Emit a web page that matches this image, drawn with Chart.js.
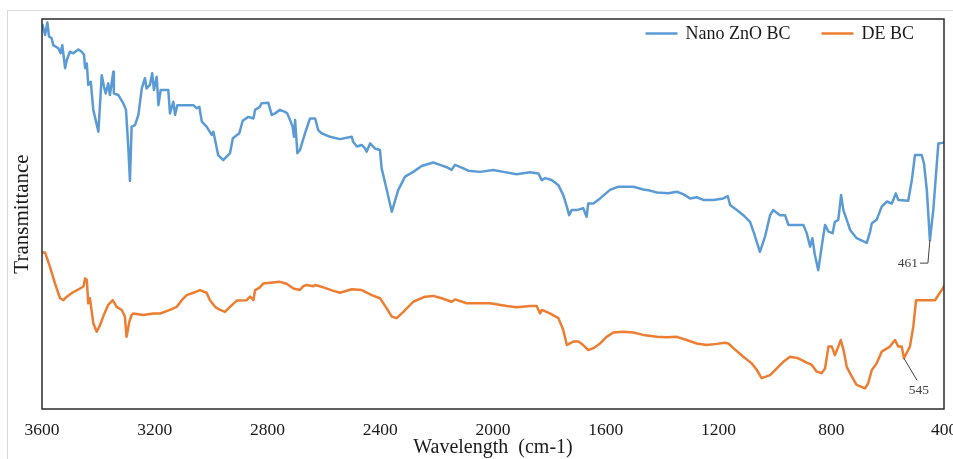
<!DOCTYPE html>
<html><head><meta charset="utf-8">
<script src="https://cdn.jsdelivr.net/npm/chart.js@4/dist/chart.umd.min.js"></script>
<style>html,body{margin:0;padding:0;background:#fff;overflow:hidden}#wrap{width:953px;height:459px;position:relative}</style>
</head><body><div id="wrap"><canvas id="c" width="953" height="459"></canvas></div>
<script>
// ---- data: [wavenumber (cm-1), transmittance (arbitrary %)] ----
const xTicks = [3600, 3200, 2800, 2400, 2000, 1600, 1200, 800, 400];
const seriesNames = ['Nano ZnO BC', 'DE BC'];
const nanoZnO = [[3600,97.5],[3598,98.5],[3589,95.9],[3581,99.1],[3575,95.5],[3566,95.1],[3560,93.3],[3542,92.5],[3534,91.2],[3528,93.3],[3518,87.4],[3512,89.5],[3501,91.6],[3489,91.2],[3471,92.2],[3459,91.6],[3451,90.8],[3447,87.4],[3441,88.6],[3436,83.1],[3427,83.9],[3418,76.7],[3400,71.1],[3388,85.6],[3380,82.6],[3374,80.9],[3365,83.5],[3359,80.5],[3353,83.5],[3347,86.5],[3345,80.9],[3329,80.5],[3312,78.4],[3302,76.7],[3294,67.3],[3288,58.5],[3282,72.4],[3270,72.8],[3258,75.4],[3246,82.2],[3235,84.8],[3229,82.2],[3217,83.1],[3209,86.1],[3203,81.8],[3193,85.2],[3187,77.9],[3179,81.8],[3152,81.8],[3146,75.8],[3134,78.8],[3128,75.4],[3120,77.9],[3099,77.9],[3063,77.9],[3051,77.1],[3042,77.5],[3033,73.7],[3016,72.4],[2998,70.3],[2992,71.1],[2975,65.1],[2957,63.8],[2933,65.6],[2923,69.4],[2900,70.7],[2888,73.9],[2868,74.9],[2850,74.5],[2844,76.7],[2827,77.5],[2821,78.4],[2797,78.5],[2785,75.4],[2773,75.8],[2756,76.7],[2738,76.2],[2730,75.8],[2720,74.1],[2711,72.4],[2706,69.8],[2702,74.1],[2694,65.6],[2685,66.4],[2667,70.7],[2649,74.5],[2631,74.5],[2620,71.5],[2608,70.7],[2578,69.8],[2543,69.2],[2501,69.8],[2496,68.5],[2483,67.3],[2466,67.7],[2454,66.8],[2448,66.0],[2436,68.1],[2419,66.8],[2401,66.4],[2395,61.7],[2377,56.2],[2359,50.6],[2336,56.2],[2312,59.6],[2283,60.8],[2253,62.3],[2212,63.2],[2188,62.6],[2164,62.0],[2147,61.3],[2135,62.6],[2105,61.7],[2088,61.1],[2046,60.8],[1999,61.3],[1963,60.8],[1916,60.2],[1869,60.7],[1839,60.4],[1827,58.7],[1815,59.2],[1792,58.7],[1768,57.4],[1751,54.9],[1738,51.9],[1730,49.7],[1721,51.0],[1703,51.0],[1680,51.5],[1668,49.3],[1662,52.7],[1644,52.7],[1620,54.0],[1585,56.2],[1555,57.0],[1502,57.0],[1467,56.3],[1443,56.0],[1419,55.5],[1378,55.3],[1348,55.7],[1325,55.1],[1301,54.0],[1277,54.3],[1254,53.6],[1218,53.6],[1183,54.0],[1167,54.6],[1159,52.3],[1135,51.0],[1112,49.7],[1088,48.0],[1074,45.1],[1053,40.3],[1035,44.2],[1017,49.7],[1006,51.0],[982,49.7],[964,49.7],[952,47.2],[899,47.2],[887,45.1],[875,41.6],[867,43.8],[858,39.5],[846,35.6],[834,41.6],[822,47.2],[810,45.5],[795,45.1],[787,48.0],[775,48.5],[765,54.9],[757,51.0],[745,48.5],[733,45.9],[710,43.8],[674,42.6],[662,45.5],[656,47.6],[639,48.5],[621,51.9],[603,53.2],[585,52.7],[571,55.3],[562,53.6],[527,53.4],[514,58.7],[503,65.1],[479,65.1],[471,63.0],[461,56.2],[450,43.3],[438,51.0],[420,68.1],[402,68.3],[400,68.3]];
const deBC = [[3600,40.1],[3589,40.1],[3572,36.5],[3554,32.2],[3536,28.4],[3524,27.9],[3512,28.8],[3495,29.7],[3465,30.9],[3453,31.4],[3447,33.5],[3441,33.1],[3436,27.1],[3430,28.4],[3418,22.0],[3406,19.8],[3394,21.5],[3383,23.7],[3365,26.7],[3349,27.9],[3335,26.2],[3317,25.4],[3306,23.7],[3300,18.5],[3290,22.4],[3282,24.1],[3276,24.5],[3241,24.1],[3205,24.5],[3181,24.5],[3146,25.4],[3122,26.2],[3104,27.9],[3087,29.2],[3063,29.8],[3040,30.5],[3016,29.8],[3004,27.9],[2986,26.2],[2968,25.4],[2951,24.9],[2933,26.2],[2909,27.8],[2874,27.9],[2862,28.8],[2850,27.9],[2844,30.5],[2827,31.2],[2815,32.2],[2791,32.4],[2756,32.6],[2732,32.1],[2708,30.9],[2685,30.5],[2673,31.5],[2661,31.8],[2637,31.5],[2631,31.8],[2602,31.2],[2566,30.3],[2543,29.8],[2501,30.7],[2466,30.5],[2430,29.2],[2401,28.4],[2377,25.8],[2359,23.7],[2342,23.3],[2318,24.9],[2283,27.5],[2241,28.8],[2212,29.0],[2182,28.4],[2147,27.5],[2135,28.1],[2093,27.1],[2011,27.1],[1951,26.4],[1916,26.1],[1869,26.4],[1845,26.4],[1833,24.5],[1827,25.4],[1798,24.5],[1768,23.3],[1751,20.3],[1738,16.4],[1727,16.8],[1715,17.3],[1697,17.3],[1680,16.4],[1662,15.1],[1644,15.6],[1620,16.8],[1597,18.5],[1573,19.6],[1538,19.8],[1502,19.6],[1467,19.0],[1419,18.5],[1384,18.4],[1348,18.5],[1313,17.7],[1277,16.8],[1242,16.4],[1206,16.7],[1177,17.0],[1165,16.8],[1147,15.6],[1112,13.4],[1082,11.7],[1064,10.0],[1047,7.9],[1017,8.7],[993,10.4],[970,12.1],[946,13.4],[917,13.0],[887,11.9],[869,11.3],[852,9.6],[834,9.2],[822,10.4],[810,16.0],[798,16.0],[787,13.8],[775,16.0],[766,17.7],[755,14.7],[745,10.8],[727,8.3],[710,6.2],[680,5.3],[669,6.6],[656,10.0],[639,11.7],[621,14.7],[592,16.0],[574,17.7],[562,16.0],[550,16.0],[542,13.0],[521,16.0],[509,21.1],[499,27.9],[432,27.9],[402,31.2],[400,31.5]];
const annText = ['461', '545'];
const annWn = [450, 542];
const annSeries = [0, 1];

const SERIF = '"Liberation Serif", "Times New Roman", serif';
const COLORS = ['#5B9BD5', '#ED7D31'];

function interpT(data, wn) {
  for (let i = 0; i < data.length - 1; i++) {
    const a = data[i], b = data[i + 1];
    if ((wn <= a[0] && wn >= b[0])) {
      const t = (a[0] - wn) / (a[0] - b[0] || 1);
      return a[1] + (b[1] - a[1]) * t;
    }
  }
  return data[data.length - 1][1];
}

const frameAndNotes = {
  id: 'frameAndNotes',
  beforeDraw(chart) {
    const ctx = chart.ctx;
    ctx.save();
    ctx.fillStyle = '#fff';
    ctx.fillRect(0, 0, chart.width, chart.height);
    ctx.strokeStyle = '#d9d9d9';
    ctx.lineWidth = 1;
    ctx.strokeRect(7.5, 10.5, 980, 480);
    ctx.restore();
  },
  afterDraw(chart) {
    const ctx = chart.ctx;
    const a = chart.chartArea;
    const xs = chart.scales.x, ys = chart.scales.y;
    ctx.save();
    // plot border
    ctx.strokeStyle = '#2b2b2b';
    ctx.lineWidth = 1.5;
    ctx.strokeRect(a.left, a.top, a.right - a.left, a.bottom - a.top);

    // legend
    ctx.font = '18px ' + SERIF;
    ctx.textBaseline = 'middle';
    ctx.textAlign = 'left';
    const sample = 32, gap = 8, between = 31;
    const ds = chart.data.datasets;
    const widths = ds.map(d => ctx.measureText(d.label).width);
    let total = 0;
    widths.forEach((w, i) => { total += sample + gap + w + (i < widths.length - 1 ? between : 0); });
    let lx = a.right - 30 - total;
    const ly = a.top + 14.5;
    ds.forEach((d, i) => {
      ctx.strokeStyle = d.borderColor;
      ctx.lineWidth = 2.5;
      ctx.beginPath();
      ctx.moveTo(lx, ly);
      ctx.lineTo(lx + sample, ly);
      ctx.stroke();
      ctx.fillStyle = '#1a1a1a';
      ctx.fillText(d.label, lx + sample + gap, ly + 0.5);
      lx += sample + gap + widths[i] + between;
    });

    // peak annotations
    const geom = [
      {path: [[0, 0], [-2, 23], [-10, 23]], tx: -12, ty: 23, align: 'right'},
      {path: [[0, 0], [13, 22]], tx: 15, ty: 32, align: 'center'}
    ];
    ctx.font = '13.5px ' + SERIF;
    annText.forEach((txt, i) => {
      const data = annSeries[i] === 0 ? nanoZnO : deBC;
      const px = xs.getPixelForValue(annWn[i]);
      const py = ys.getPixelForValue(interpT(data, annWn[i]));
      const g = geom[i];
      ctx.strokeStyle = '#404040';
      ctx.lineWidth = 1;
      ctx.beginPath();
      g.path.forEach((p, k) => { if (k === 0) ctx.moveTo(px + p[0], py + p[1]); else ctx.lineTo(px + p[0], py + p[1]); });
      ctx.stroke();
      ctx.fillStyle = '#404040';
      ctx.textAlign = g.align;
      ctx.textBaseline = 'middle';
      ctx.fillText(txt, px + g.tx, py + g.ty);
    });
    ctx.restore();
  }
};

new Chart(document.getElementById('c'), {
  type: 'line',
  data: {
    datasets: [
      {label: seriesNames[0], data: nanoZnO.map(p => ({x: p[0], y: p[1]})), borderColor: COLORS[0], backgroundColor: COLORS[0]},
      {label: seriesNames[1], data: deBC.map(p => ({x: p[0], y: p[1]})), borderColor: COLORS[1], backgroundColor: COLORS[1]}
    ]
  },
  options: {
    responsive: false,
    animation: false,
    devicePixelRatio: 1,
    layout: {padding: {top: 19, right: 9, bottom: 0, left: 0}},
    elements: {
      line: {borderWidth: 2.5, tension: 0, borderJoinStyle: 'round', borderCapStyle: 'round'},
      point: {radius: 0, hoverRadius: 0}
    },
    plugins: {legend: {display: false}, tooltip: {enabled: false}},
    events: [],
    scales: {
      x: {
        type: 'linear',
        reverse: true,
        min: 400,
        max: 3600,
        afterBuildTicks: s => { s.ticks = xTicks.map(v => ({value: v})); },
        afterFit: s => { s.height = 50; s.paddingLeft = 0; s.paddingRight = 0; },
        grid: {display: false, drawTicks: false, tickLength: 0},
        border: {display: false},
        ticks: {padding: 11, maxRotation: 0, autoSkip: false, color: '#1a1a1a', font: {family: SERIF, size: 17.5}, callback: v => String(v)},
        title: {display: true, text: 'Wavelength  (cm-1)', color: '#1a1a1a', font: {family: SERIF, size: 20, lineHeight: 1.1}, padding: {top: 0, bottom: 0}}
      },
      y: {
        min: 0,
        max: 100,
        afterFit: s => { s.width = 42; s.paddingTop = 0; s.paddingBottom = 0; },
        grid: {display: false, drawTicks: false, tickLength: 0},
        border: {display: false},
        ticks: {display: false},
        title: {display: true, text: 'Transmittance', color: '#1a1a1a', font: {family: SERIF, size: 21, lineHeight: 1.2}, padding: {top: 9.5, bottom: 0}}
      }
    }
  },
  plugins: [frameAndNotes]
});
</script>
</body></html>
